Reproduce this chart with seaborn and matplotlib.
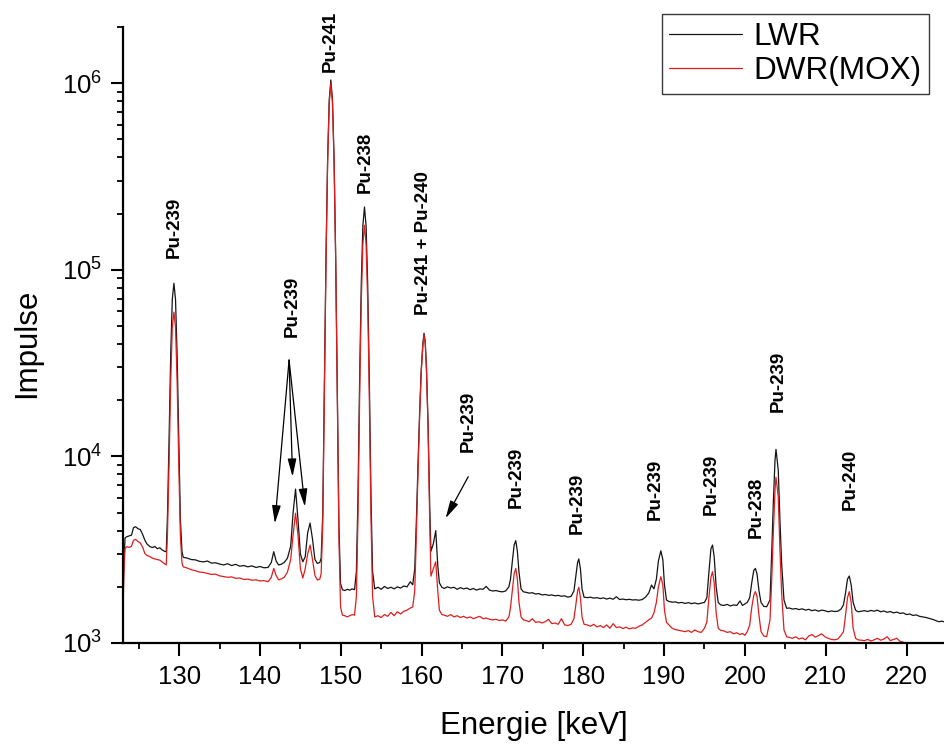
import matplotlib
matplotlib.use("Agg")
import matplotlib.pyplot as plt
from matplotlib.ticker import MultipleLocator, LogLocator, NullFormatter
import numpy as np
import pandas as pd
import seaborn as sns

# Gamma spectrum of plutonium samples: energy channels [keV]
energie_kev = [
    123.05, 123.15, 123.3, 123.5, 123.8, 124.1, 124.35, 124.6, 124.9, 125.2, 125.5, 125.75, 126.0, 126.4, 126.7, 127.0, 127.3, 127.6, 127.9, 128.2, 128.4,
    128.55, 128.75, 128.95, 129.15, 129.35, 129.55, 129.75, 129.95, 130.15, 130.35,
    130.5, 131.0, 131.5, 132.0, 132.5, 133.0, 133.5, 134.0, 134.5, 135.0, 135.5, 136.0, 136.5, 137.0, 137.5, 138.0, 138.5, 139.0, 139.5, 140.0, 140.5, 141.0,
    141.4, 141.7, 142.0, 142.3, 142.6, 143.0, 143.4, 143.8, 144.1, 144.4, 144.7, 145.0, 145.3, 145.6, 145.9, 146.2, 146.5, 146.8, 147.1, 147.4,
    147.57, 147.77, 147.97, 148.17, 148.37, 148.57, 148.77, 148.97, 149.17, 149.37, 149.57, 149.77, 149.97, 150.2,
    150.5, 150.8, 151.1, 151.4, 151.7,
    151.93, 152.13, 152.33, 152.53, 152.73, 152.93, 153.13, 153.33, 153.53, 153.73, 153.93,
    154.2, 154.6, 155.0, 155.4, 155.8, 156.2, 156.6, 157.0, 157.4, 157.8, 158.2, 158.6, 158.9,
    159.15, 159.35, 159.55, 159.75, 159.95, 160.15, 160.3, 160.45, 160.6, 160.8, 161.0, 161.15, 161.45, 161.75, 162.0, 162.2, 162.5,
    162.8, 163.2, 163.6, 164.0, 164.4, 164.8, 165.2, 165.6, 166.0, 166.4, 166.8, 167.2, 167.6, 168.0, 168.4, 168.8, 169.2, 169.6, 170.0, 170.4, 170.8,
    171.0, 171.25, 171.45, 171.65, 171.85, 172.05, 172.3, 172.6,
    172.9, 173.3, 173.7, 174.1, 174.5, 174.9, 175.3, 175.7, 176.1, 176.5, 176.9, 177.3, 177.7, 178.1, 178.5,
    178.85, 179.1, 179.3, 179.45, 179.65, 179.85, 180.1,
    180.5, 180.9, 181.3, 181.7, 182.1, 182.5, 182.9, 183.3, 183.7, 184.1, 184.5, 184.9, 185.3, 185.7, 186.1, 186.5, 186.9, 187.3, 187.7, 188.1,
    188.45, 188.75, 189.05, 189.3, 189.6, 189.85, 190.05, 190.3,
    190.6, 191.0, 191.4, 191.8, 192.2, 192.6, 193.0, 193.4, 193.8, 194.2, 194.6, 195.0,
    195.3, 195.55, 195.8, 196.0, 196.2, 196.45, 196.7, 197.0,
    197.4, 197.8, 198.2, 198.6, 199.0, 199.4, 199.7, 200.0, 200.3,
    200.6, 200.85, 201.1, 201.3, 201.5, 201.75, 202.0, 202.35, 202.7, 203.11, 203.32, 203.52, 203.73, 203.85, 204.13, 204.34, 204.55, 204.84, 205.17,
    205.5, 205.9, 206.3, 206.7, 207.1, 207.5, 207.9, 208.3, 208.7, 209.1, 209.5, 209.9, 210.3, 210.7, 211.1, 211.5, 211.9,
    212.2, 212.45, 212.7, 212.92, 213.15, 213.4, 213.7, 214.0,
    214.4, 214.8, 215.2, 215.6, 216.0, 216.4, 216.8, 217.2, 217.6, 218.0, 218.4, 218.8, 219.2, 219.6, 220.0, 220.4, 220.8, 221.2, 221.6, 222.0, 222.4, 222.8, 223.2, 223.6, 224.0, 224.4, 224.8,
]

# Counts, light water reactor fuel
impulse_lwr = [
    1500, 2600, 3650, 3710, 3750, 3785, 4150, 4200, 4100, 4050, 3800, 3560, 3400, 3280, 3250, 3290, 3200, 3240, 3150, 3100, 3080,
    4770, 12400, 34800, 69500, 84700, 69300, 34600, 12200, 4590, 3090,
    2880, 2850, 2800, 2790, 2740, 2720, 2750, 2680, 2690, 2650, 2620, 2660, 2600, 2640, 2580, 2600, 2560, 2590, 2540, 2570, 2530, 2540,
    2700, 3085, 2750, 2620, 2640, 2700, 2850, 3300, 5000, 6680, 4600, 3000, 2725, 2900, 3900, 4395, 3600, 2800, 2670, 2700,
    2850, 4970, 23400, 117700, 391000, 815000, 1040000, 815000, 389000, 115000, 22600, 4200, 2080, 1930,
    1910, 1940, 1920, 1950, 1930,
    2420, 6300, 25900, 83000, 172000, 217000, 172000, 83000, 25900, 6300, 2420,
    1950, 1990, 1940, 2010, 1960, 1990, 1950, 2000, 1970, 2020, 2000, 2130, 2050,
    2500, 4500, 9000, 17000, 29000, 40000, 45700, 41000, 30000, 15000, 5500, 3100, 3400, 4000, 2600, 2100, 1990,
    1960, 2000, 1970, 1990, 1940, 1980, 1950, 1970, 1930, 1960, 1920, 1950, 1940, 2010, 1920, 1900, 1910, 1890, 1880, 1900, 2000,
    2200, 2800, 3350, 3535, 3100, 2400, 1950, 1880,
    1870, 1850, 1860, 1830, 1840, 1810, 1820, 1800, 1810, 1790, 1800, 1780, 1790, 1760, 1780,
    1900, 2300, 2700, 2820, 2500, 1950, 1760,
    1750, 1760, 1740, 1750, 1730, 1745, 1720, 1740, 1715, 1770, 1710, 1720, 1705, 1715, 1700, 1705, 1695, 1710, 1760, 1850,
    2045, 1950, 2200, 2750, 3120, 2800, 2050, 1700,
    1670, 1655, 1660, 1640, 1650, 1630, 1645, 1625, 1640, 1620, 1635, 1650,
    1750, 2400, 3200, 3350, 2900, 2000, 1650, 1600,
    1590, 1610, 1580, 1600, 1590, 1680, 1590, 1620, 1650,
    1750, 2100, 2450, 2510, 2350, 1900, 1650, 1570, 1565, 1700, 3030, 5630, 9550, 10900, 8450, 4560, 2670, 1700, 1535,
    1540, 1520, 1530, 1510, 1525, 1500, 1515, 1490, 1505, 1480, 1500, 1490, 1470, 1485, 1475, 1480, 1520,
    1600, 1850, 2200, 2285, 2050, 1650, 1500, 1470,
    1480, 1490, 1475, 1495, 1480, 1500, 1470, 1485, 1460, 1475, 1450, 1465, 1440, 1450, 1420, 1430, 1405, 1415, 1390, 1380, 1370, 1355, 1340, 1320, 1300, 1310, 1290,
]

# Counts, pressurised water reactor MOX fuel
impulse_dwr_mox = [
    1450, 2300, 3200, 3280, 3250, 3300, 3550, 3590, 3500, 3430, 3250, 3020, 2950, 2900, 2850, 2820, 2800, 2780, 2720, 2660, 2620,
    3800, 9160, 24800, 49100, 59300, 49060, 24760, 9100, 3740, 2690,
    2560, 2520, 2470, 2440, 2400, 2390, 2360, 2330, 2340, 2290, 2270, 2250, 2260, 2220, 2230, 2190, 2200, 2170, 2180, 2150, 2160, 2130,
    2250, 2510, 2300, 2180, 2200, 2250, 2400, 2800, 3800, 4960, 3800, 2500, 2230, 2500, 3000, 3350, 2800, 2300, 2175, 2200,
    2350, 4390, 22150, 112000, 377000, 783000, 1000000, 783000, 375000, 110000, 21360, 3600, 1560, 1410,
    1400, 1380, 1400, 1420, 1410,
    1780, 4850, 20500, 66300, 137000, 173000, 137000, 66300, 20500, 4850, 1780,
    1380, 1400, 1370, 1420, 1390, 1460, 1400, 1470, 1430, 1480, 1500, 1540, 1560,
    1900, 3800, 8000, 16000, 28000, 39000, 44700, 40000, 29000, 14000, 4500, 2280, 2500, 2725, 1900, 1500, 1420,
    1410, 1390, 1420, 1380, 1400, 1370, 1390, 1360, 1380, 1350, 1370, 1390, 1350, 1360, 1340, 1330, 1340, 1320, 1330, 1310, 1380,
    1550, 1950, 2350, 2510, 2200, 1650, 1380, 1330,
    1320, 1300, 1350, 1290, 1300, 1280, 1300, 1340, 1270, 1280, 1260, 1350, 1250, 1240, 1260,
    1350, 1620, 1900, 1986, 1760, 1380, 1260,
    1250, 1230, 1260, 1220, 1240, 1210, 1250, 1200, 1270, 1210, 1220, 1195, 1215, 1190, 1205, 1200, 1230, 1250, 1290, 1330,
    1360, 1450, 1650, 2000, 2265, 2050, 1500, 1290,
    1250, 1200, 1180, 1170, 1160, 1150, 1165, 1140, 1175, 1150, 1140, 1200,
    1300, 1750, 2250, 2410, 2100, 1450, 1200, 1170,
    1160, 1140, 1150, 1120, 1135, 1110, 1125, 1100, 1150,
    1250, 1550, 1800, 1885, 1780, 1400, 1150, 1090, 1081, 1330, 2175, 3870, 6610, 7730, 6080, 3150, 1850, 1175, 1080,
    1070, 1060, 1080, 1050, 1065, 1040, 1090, 1110, 1075, 1095, 1120, 1080, 1060, 1045, 1040, 1050, 1100,
    1150, 1400, 1750, 1885, 1650, 1200, 1060, 1040,
    1035, 1030, 1045, 1025, 1040, 1060, 1035, 1050, 1080, 1030, 1045, 1060, 1020, 1010, 1000, 985, 1005, 990, 975, 995, 980, 965, 960, 950, 945, 940, 935,
]

serien = ["LWR", "DWR(MOX)"]
farben = {"LWR": "#141414", "DWR(MOX)": "#dc1e1e"}

# Peak labels: (energy, lower end of label, text)
peak_energie = [129.35, 143.99, 148.74, 152.98, 160.2, 165.77, 171.7, 179.26, 188.87, 195.8, 201.46, 204.13, 213.0]
peak_textpos = [115000, 43800, 1148000, 256500, 57100, 10590, 5260, 3820, 4560, 4850, 3640, 17340, 5150]
peak_text = ["Pu-239", "Pu-239", "Pu-241", "Pu-238", "Pu-241 + Pu-240", "Pu-239", "Pu-239",
             "Pu-239", "Pu-239", "Pu-239", "Pu-238", "Pu-239", "Pu-240"]

# Arrows pointing from a label to small peaks: (tail, head)
pfeil_start = [(143.6, 32800), (143.6, 32800), (143.6, 32800), (165.77, 7785)]
pfeil_ziel = [(141.84, 4375), (144.03, 7785), (145.56, 5375), (162.97, 4660)]

assert len(energie_kev) == len(impulse_lwr) == len(impulse_dwr_mox)

df = pd.DataFrame({
    "Energie": energie_kev * 2,
    "Impulse": impulse_lwr + impulse_dwr_mox,
    "Probe": ["LWR"] * len(impulse_lwr) + ["DWR(MOX)"] * len(impulse_dwr_mox),
})

sns.set_style("ticks")
plt.rcParams["font.family"] = ["Liberation Sans", "DejaVu Sans"]
plt.rcParams["axes.linewidth"] = 1.6
plt.rcParams["text.color"] = "black"
plt.rcParams["axes.labelcolor"] = "black"

fig = plt.figure(figsize=(9.44, 7.44), dpi=100)
ax = fig.add_axes([123 / 944, 1 - 643 / 744, (944 - 123) / 944, (643 - 27) / 744])

sns.lineplot(data=df, x="Energie", y="Impulse", hue="Probe", hue_order=serien,
             palette=farben, estimator=None, sort=False, linewidth=0.9,
             legend=False, ax=ax)

ax.set_yscale("log")
ax.set_xlim(123.05, 224.64)
ax.set_ylim(1e3, 2e6)

ax.xaxis.set_major_locator(MultipleLocator(10))
ax.xaxis.set_minor_locator(MultipleLocator(5))
ax.yaxis.set_major_locator(LogLocator(base=10))
ax.yaxis.set_minor_locator(LogLocator(base=10, subs=np.arange(2, 10)))
ax.yaxis.set_minor_formatter(NullFormatter())

ax.tick_params(axis="both", which="major", direction="out", length=9, width=1.5,
               labelsize=18.5, color="black", labelcolor="black")
ax.tick_params(axis="both", which="minor", direction="out", length=4.5, width=1.3, color="black")
ax.tick_params(axis="x", which="major", pad=7)
ax.tick_params(axis="y", which="major", pad=6)

sns.despine(ax=ax, top=True, right=True)
for s in ("left", "bottom"):
    ax.spines[s].set_color("black")

ax.set_xlabel("Energie [keV]", fontsize=22.5)
ax.xaxis.set_label_coords(0.5, (643 - 711) / 616)
ax.set_ylabel("Impulse", fontsize=22.5)
ax.yaxis.set_label_coords((42 - 123) / 821, (643 - 343) / 616)

for e, yv, t in zip(peak_energie, peak_textpos, peak_text):
    ax.text(e, yv, t, rotation=90, ha="center", va="bottom",
            fontsize=13.5, fontweight="bold", color="black")

for (x0, y0), (x1, y1) in zip(pfeil_start, pfeil_ziel):
    ax.annotate("", xy=(x1, y1), xytext=(x0, y0),
                arrowprops=dict(arrowstyle="-|>,head_length=0.9,head_width=0.22",
                                mutation_scale=12, color="black", lw=0.9,
                                shrinkA=0, shrinkB=0))

linien = ax.get_lines()[:2]
leg = fig.legend(handles=linien, labels=serien, loc="upper right",
                 bbox_to_anchor=(929 / 944, 1 - 14 / 744), bbox_transform=fig.transFigure,
                 fontsize=22.7, frameon=True, fancybox=False, framealpha=1,
                 edgecolor="#3a3a3a", borderpad=0.25, labelspacing=0.12,
                 handlelength=2.3, handletextpad=0.35, borderaxespad=0)
leg.get_frame().set_linewidth(1.0)

fig.savefig("out.png", dpi=100)
